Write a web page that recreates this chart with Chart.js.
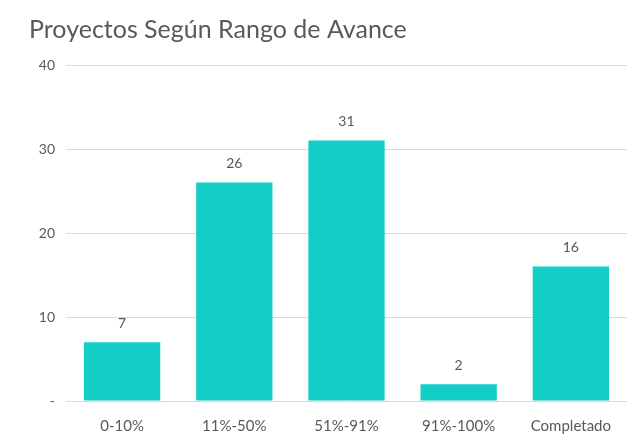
<!DOCTYPE html>
<html>
<head>
<meta charset="utf-8">
<script src="https://cdn.jsdelivr.net/npm/chart.js@4/dist/chart.umd.min.js"></script>
<style>
  html, body { margin: 0; padding: 0; background: #fff; }
</style>
</head>
<body>
<canvas id="barChart" width="627" height="437"></canvas>
<script>
// datos del grafico
const categorias = ['0-10%', '11%-50%', '51%-91%', '91%-100%', 'Completado'];
const proyectos = [7, 26, 31, 2, 16];
const ticksY = [0, 10, 20, 30, 40];

const fuente = 'Lato, "Open Sans", sans-serif';
const gris = '#595959';

// etiquetas encima de cada barra
const etiquetas = {
    id: 'etiquetas',
    afterDatasetsDraw(chart) {
        const ctx = chart.ctx;
        const meta = chart.getDatasetMeta(0);
        ctx.save();
        ctx.font = '14px ' + fuente;
        ctx.fillStyle = gris;
        ctx.textAlign = 'center';
        ctx.textBaseline = 'bottom';
        meta.data.forEach(function(bar, i) {
            ctx.fillText(proyectos[i], bar.x, bar.y - 12);
        });
        ctx.restore();
    }
};

const ctxBar = document.getElementById('barChart').getContext('2d');
new Chart(ctxBar, {
    type: 'bar',
    data: {
        labels: categorias,
        datasets: [{
            data: proyectos,
            backgroundColor: '#12CEC6',
            categoryPercentage: 1,
            barPercentage: 0.68
        }]
    },
    options: {
        responsive: false,
        animation: false,
        layout: { padding: { left: 29, right: 0, top: 15, bottom: 0 } },
        plugins: {
            legend: { display: false },
            tooltip: { enabled: false },
            title: {
                display: true,
                text: 'Proyectos Según Rango de Avance',
                align: 'start',
                color: gris,
                font: { family: fuente, size: 25, weight: 'normal' },
                padding: { top: 0, bottom: 20 }
            }
        },
        scales: {
            x: {
                afterFit: function(scale) { scale.height = 36; },
                grid: { display: false, drawTicks: false },
                border: { display: false },
                ticks: { color: gris, font: { family: fuente, size: 15 }, padding: 16 }
            },
            y: {
                min: 0,
                max: 40,
                afterFit: function(scale) { scale.width = 37; },
                afterBuildTicks: function(scale) {
                    scale.ticks = ticksY.map(function(v) { return { value: v }; });
                },
                grid: { color: '#d9d9d9', drawTicks: false },
                border: { display: false },
                ticks: {
                    color: gris,
                    font: { family: fuente, size: 14 },
                    padding: 11,
                    callback: function(v) { return v === 0 ? '-' : v; }
                }
            }
        }
    },
    plugins: [etiquetas]
});
</script>
</body>
</html>
